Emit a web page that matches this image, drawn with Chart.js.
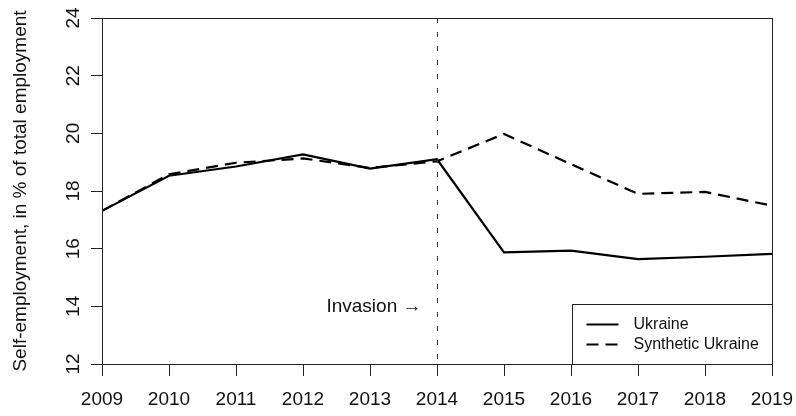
<!DOCTYPE html>
<html>
<head>
<meta charset="utf-8">
<script src="https://cdn.jsdelivr.net/npm/chart.js@4/dist/chart.umd.min.js"></script>
<style>
  html, body { margin: 0; padding: 0; background: #fff; }
  #wrap { width: 796px; height: 416px; }
</style>
</head>
<body>
<div id="wrap"><canvas id="chart" width="796" height="416"></canvas></div>
<script>
const years = [2009, 2010, 2011, 2012, 2013, 2014, 2015, 2016, 2017, 2018, 2019];
const ukraine = [17.31, 18.53, 18.85, 19.27, 18.78, 19.1, 15.87, 15.93, 15.64, 15.72, 15.82];
const synthetic = [17.31, 18.58, 18.98, 19.13, 18.8, 19.03, 19.98, 18.93, 17.9, 17.97, 17.49];
const yTicks = [12, 14, 16, 18, 20, 22, 24];
const invasionYear = 2014;
const yTitle = "Self-employment, in % of total employment";

const FONT = "'Liberation Sans', Arial, Helvetica, sans-serif";
const INK = "#111";

const toPoints = vals => years.map((y, i) => ({ x: y, y: vals[i] }));

// frame, rotated y labels, invasion marker and legend box
const extras = {
    id: "extras",
    afterDraw(chart) {
        const ctx = chart.ctx;
        const a = chart.chartArea;
        const xs = chart.scales.x;
        const ys = chart.scales.y;

        ctx.save();
        // box around plot
        ctx.strokeStyle = "#222";
        ctx.lineWidth = 1;
        ctx.strokeRect(Math.round(a.left) + 0.5, Math.round(a.top) + 0.5,
            Math.round(a.right - a.left), Math.round(a.bottom - a.top));

        // y tick labels, rotated like R's default
        ctx.fillStyle = INK;
        ctx.font = "19px " + FONT;
        ctx.textAlign = "center";
        ctx.textBaseline = "middle";
        yTicks.forEach(v => {
            ctx.save();
            ctx.translate(a.left - 28, ys.getPixelForValue(v));
            ctx.rotate(-Math.PI / 2);
            ctx.fillText(String(v), 0, 0);
            ctx.restore();
        });

        // invasion line
        const xi = Math.round(xs.getPixelForValue(invasionYear)) + 0.5;
        ctx.strokeStyle = "#333";
        ctx.setLineDash([5, 9]);
        ctx.beginPath();
        ctx.moveTo(xi, a.top);
        ctx.lineTo(xi, a.bottom);
        ctx.stroke();
        ctx.setLineDash([]);

        ctx.textAlign = "right";
        ctx.fillText("Invasion \u2192", xi - 16, ys.getPixelForValue(14));

        // legend, bottom right inside plot
        const ds = chart.data.datasets;
        const w = 200, h = 60;
        const lx = Math.round(a.right) - w + 0.5;
        const ly = Math.round(a.bottom) - h + 0.5;
        ctx.fillStyle = "#fff";
        ctx.fillRect(lx, ly, w, h);
        ctx.strokeStyle = "#222";
        ctx.lineWidth = 1;
        ctx.strokeRect(lx, ly, w, h);
        ctx.font = "16px " + FONT;
        ctx.textAlign = "left";
        ctx.fillStyle = INK;
        ds.forEach((d, i) => {
            const yy = ly + 20 + i * 20;
            ctx.strokeStyle = d.borderColor;
            ctx.lineWidth = d.borderWidth;
            ctx.setLineDash(d.borderDash || []);
            ctx.beginPath();
            ctx.moveTo(lx + 14, yy);
            ctx.lineTo(lx + 46, yy);
            ctx.stroke();
            ctx.setLineDash([]);
            ctx.fillText(d.label, lx + 61, yy);
        });
        ctx.restore();
    }
};

new Chart(document.getElementById("chart"), {
    type: "line",
    data: {
        datasets: [
            {
                label: "Ukraine",
                data: toPoints(ukraine),
                borderColor: "#000",
                borderWidth: 2.2,
                pointRadius: 0,
                tension: 0,
                fill: false
            },
            {
                label: "Synthetic Ukraine",
                data: toPoints(synthetic),
                borderColor: "#000",
                borderWidth: 2.2,
                borderDash: [12, 7],
                pointRadius: 0,
                tension: 0,
                fill: false
            }
        ]
    },
    options: {
        responsive: false,
        animation: false,
        layout: { padding: { left: 0, top: 18, right: 24, bottom: 0 } },
        plugins: {
            legend: { display: false },
            tooltip: { enabled: false }
        },
        scales: {
            x: {
                type: "linear",
                min: 2009,
                max: 2019,
                afterFit: s => {
                    s.height = 52;
                    s.paddingLeft = 0;
                    s.paddingRight = 0;
                },
                ticks: {
                    stepSize: 1,
                    autoSkip: false,
                    maxRotation: 0,
                    padding: 12,
                    color: INK,
                    font: { family: FONT, size: 19 },
                    callback: v => String(v)
                },
                grid: {
                    drawOnChartArea: false,
                    tickLength: 12,
                    tickColor: "#222"
                },
                border: { color: "#222", width: 1 }
            },
            y: {
                min: 12,
                max: 24,
                afterFit: s => { s.width = 102; },
                ticks: {
                    stepSize: 2,
                    display: false
                },
                grid: {
                    drawOnChartArea: false,
                    tickLength: 11,
                    tickColor: "#222"
                },
                border: { color: "#222", width: 1 },
                title: {
                    display: true,
                    text: yTitle,
                    color: INK,
                    font: { family: FONT, size: 19 },
                    padding: { top: 9, bottom: 0 }
                }
            }
        }
    },
    plugins: [extras]
});
</script>
</body>
</html>
